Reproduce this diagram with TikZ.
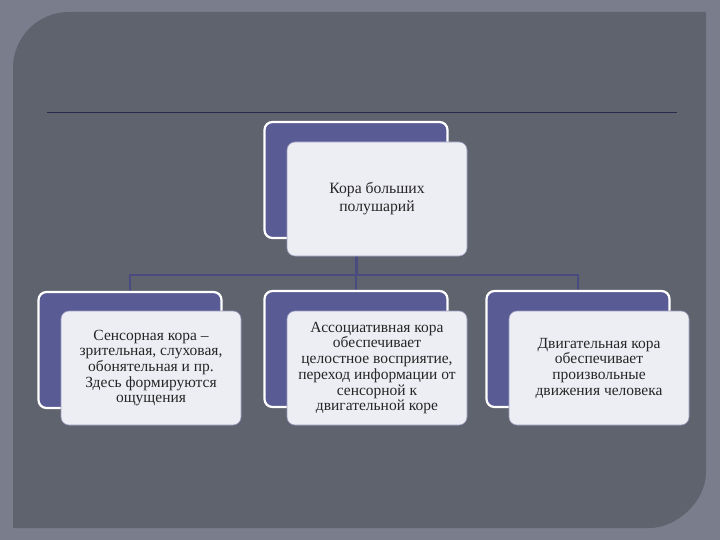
\documentclass[tikz,border=0pt]{standalone}
\usepackage{fontspec}
\setmainfont{Liberation Serif}
\usetikzlibrary{backgrounds}
\definecolor{slidegray}{RGB}{122,125,140}
\definecolor{panelgray}{RGB}{95,99,110}
\definecolor{boxblue}{RGB}{89,91,148}
\definecolor{boxlight}{RGB}{237,237,244}
\definecolor{linkblue}{RGB}{74,76,128}
\definecolor{rulenavy}{RGB}{40,42,78}
\tikzset{
  backbox/.style={draw=white,line width=2.2pt,fill=boxblue,rounded corners=8pt,
    minimum width=183pt,minimum height=116pt,inner sep=0pt},
  frontbox/.style={draw=boxblue!60,line width=0.6pt,fill=boxlight,rounded corners=8pt,
    minimum width=180pt,minimum height=114pt,inner sep=0pt,align=center,
    text=black!85,font=\fontsize{15.5}{15.7}\selectfont},
  link/.style={draw=linkblue,line width=2pt}
}

\begin{document}
\begin{tikzpicture}[x=1pt,y=-1pt]
\useasboundingbox (0,0) rectangle (720,540);

\draw (356,180) node (koraB) [backbox] {};
\draw (377,199) node (kora) [frontbox,font=\fontsize{15.7}{18}\selectfont] {Кора больших\\полушарий};

\draw (130,350) node (sensB) [backbox] {};
\draw (151,368) node (sens) [frontbox] {Сенсорная кора –\\зрительная, слуховая,\\обонятельная и пр.\\Здесь формируются\\ощущения};
\draw (356,349) node (assB) [backbox] {};
\draw (377,368) node (ass) [frontbox] {Ассоциативная кора\\обеспечивает\\целостное восприятие,\\переход информации от\\сенсорной к\\двигательной коре};
\draw (578,349) node (dvigB) [backbox] {};
\draw (599,368) node (dvig) [frontbox] {Двигательная кора\\обеспечивает\\произвольные\\движения человека};

\coordinate (bus) at (356,275);

\begin{scope}[on background layer]
% slide
\fill[slidegray] (0,0) rectangle (720,540);
\fill[panelgray] (13,528) -- (13,68) .. controls (13,37) and (38,12) .. (69,12)
  -- (706,12) -- (706,472) .. controls (706,503) and (675,528) .. (650,528) -- cycle;
\draw[rulenavy,line width=1pt] (47,113) -- (677,113);
% links
\draw[link,line width=3pt] (koraB.south) -- (bus);
\draw[link] (bus) -| (sensB.north);
\draw[link] (bus) -| (assB.north);
\draw[link] (bus) -| (dvigB.north);
\end{scope}
\end{tikzpicture}
\end{document}
